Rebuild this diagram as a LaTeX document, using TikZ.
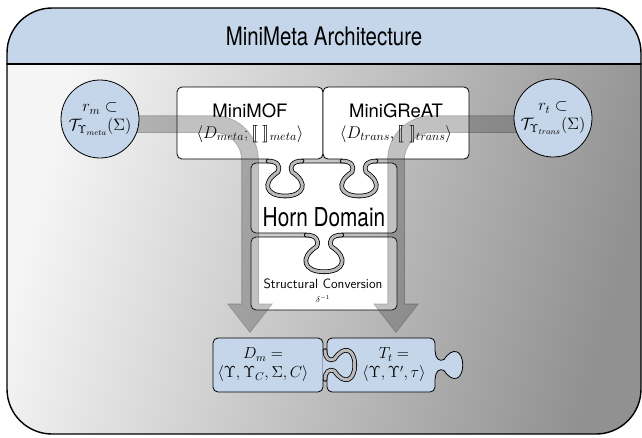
\RequirePackage{fix-cm}
\documentclass[tikz,border=0pt]{standalone}
\usepackage{fontspec}
\usepackage{stmaryrd}
\newfontfamily\heros{TeX Gyre Heros}
\newfontfamily\narrowheros[FakeStretch=0.8]{TeX Gyre Heros}
\usetikzlibrary{positioning,arrows.meta}
\definecolor{paleblue}{RGB}{197,213,234}
\definecolor{gapgray}{RGB}{186,186,186}
\pgfdeclarelayer{front}
\pgfsetlayers{main,front}
\tikzset{
	piece/.style={draw, line width=0.8pt, rounded corners=5pt, inner sep=0pt},
	hub/.style={circle, draw, line width=0.8pt, fill=paleblue, minimum size=78pt, inner sep=0pt, align=center, font=\fontsize{16.5}{19}\selectfont},
	gapline/.style={draw=black, line width=0.8pt, double=gapgray, double distance=3pt},
	edgeline/.style={draw=black, line width=0.8pt},
	bigarrow/.style={line cap=butt, rounded corners=36pt},
	pics/knob/.style 2 args={code={
		\fill[#1] (-17,-2.8) -- (-17,0) .. controls (-8,0) and (-4,5) .. (-7,11) .. controls (-24,22) and (-19,35) .. (0,35)
			.. controls (19,35) and (24,22) .. (7,11) .. controls (4,5) and (8,0) .. (17,0) -- (17,-2.8) -- cycle;
		\draw[#2] (-17,0) .. controls (-8,0) and (-4,5) .. (-7,11) .. controls (-24,22) and (-19,35) .. (0,35)
			.. controls (19,35) and (24,22) .. (7,11) .. controls (4,5) and (8,0) .. (17,0);
	}}
}
\begin{document}
\begin{tikzpicture}[x=1pt, y=-1pt, line join=round, line cap=round]
	\useasboundingbox (0,0) rectangle (642,437);
	\begin{scope}
		\clip[rounded corners=45pt] (7,8) rectangle (641,434);
		\shade[left color=black!4, right color=black!43, shading angle=75] (7,64) rectangle (641,434);
		\fill[paleblue] (7,8) rectangle (641,64);
	\end{scope}
	\draw[line width=1.4pt, rounded corners=45pt] (7,8) rectangle (641,434);
	\draw[line width=1.4pt] (7,64) -- (641,64);
	\node[font=\narrowheros\fontsize{25.5}{28}\selectfont] (title) at (324,36) {MiniMeta Architecture};
	%===
	\node[piece, fill=white, minimum width=146pt, minimum height=70pt] (horn) at (324,198) {};
	\node[piece, fill=white, minimum width=146pt, minimum height=73pt] (conv) at (324,273.5) {};
	\node[piece, fill=white, minimum width=146pt, minimum height=72pt, align=center, font=\heros\fontsize{18.5}{21}\selectfont] (mof) at (250,123)
		{MiniMOF\\{\fontsize{17}{20}\selectfont$\langle D_{meta}; \llbracket\;\rrbracket_{meta}\rangle$}};
	\node[piece, fill=white, minimum width=146pt, minimum height=72pt, align=center, font=\heros\fontsize{18.5}{21}\selectfont] (great) at (396,123)
		{MiniGReAT\\{\fontsize{17}{20}\selectfont$\langle D_{trans}, \llbracket\;\rrbracket_{trans}\rangle$}};
	\pic at (285,161) {knob={white}{gapline}};
	\pic at (359,161) {knob={white}{gapline}};
	\pic[scale=1.05] at (324,235) {knob={white}{gapline}};
	\node[font=\narrowheros\fontsize{26}{28}\selectfont] (horntxt) at (324,217) {Horn Domain};
	\node[font=\sffamily\fontsize{13.5}{15}\selectfont] (convtxt) at (323,284) {Structural Conversion};
	\node[font=\fontsize{8}{9}\selectfont, below=0pt of convtxt] (convsub) {$\delta^{-1}$};
	%===
	\node[piece, fill=paleblue, minimum width=110pt, minimum height=54pt] (dm) at (268,365) {};
	\node[piece, fill=paleblue, minimum width=108pt, minimum height=54pt] (tt) at (381,365) {};
	\pic[rotate=90, scale=0.85] at (325,365) {knob={paleblue}{gapline}};
	\pic[rotate=90, scale=0.78] at (tt.east) {knob={paleblue}{edgeline}};
	\node[align=center, font=\fontsize{16}{19}\selectfont] (dmtxt) at (263,365) {$D_m =$\\$\langle\Upsilon, \Upsilon_C, \Sigma, C\rangle$};
	\node[align=center, font=\fontsize{16}{19}\selectfont] (tttxt) at (394,365) {$T_t =$\\$\langle\Upsilon, \Upsilon', \tau\rangle$};
	%===
	\begin{pgfonlayer}{front}
		\node[hub] (rm) at (100,119) {$r_m \subset$\\$\mathcal{T}_{\Upsilon_{meta}}(\Sigma)$};
		\node[hub] (rt) at (553,118) {$r_t \subset$\\$\mathcal{T}_{\Upsilon_{trans}}(\Sigma)$};
	\end{pgfonlayer}
	\coordinate (mtip) at (250,333);
	\coordinate (ttip) at (396,333);
	\begin{scope}[transparency group, opacity=0.32]
		\draw[bigarrow, line width=17.5pt, -{Triangle[width=44pt,length=29.5pt]}] ([yshift=-5pt]rm.center) -| (mtip);
		\draw[bigarrow, line width=15.5pt, black!75, shorten >=1.3pt, -{Triangle[width=40.5pt,length=27pt]}] ([yshift=-5pt]rm.center) -| (mtip);
		\draw[bigarrow, line width=17.5pt, -{Triangle[width=44pt,length=29.5pt]}] ([yshift=-6pt]rt.center) -| (ttip);
		\draw[bigarrow, line width=15.5pt, black!75, shorten >=1.3pt, -{Triangle[width=40.5pt,length=27pt]}] ([yshift=-6pt]rt.center) -| (ttip);
	\end{scope}
\end{tikzpicture}
\end{document}
